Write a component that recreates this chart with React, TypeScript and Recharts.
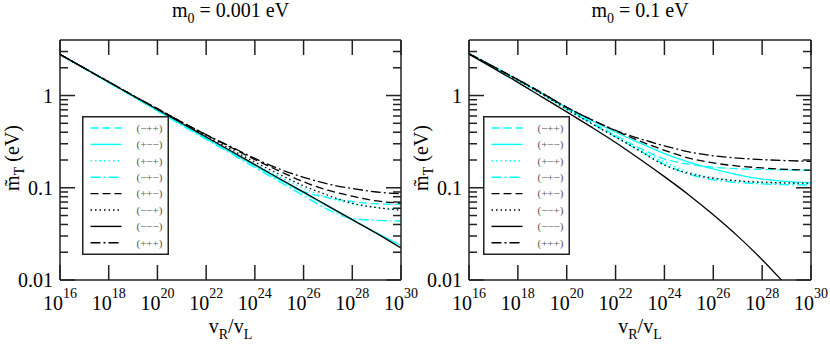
import React from 'react';
import { LineChart, Line, XAxis, YAxis, Legend, Label } from 'recharts';

// v_R / v_L sample points (one per decade)
const vRvL = [1e16, 1e17, 1e18, 1e19, 1e20, 1e21, 1e22, 1e23, 1e24, 1e25, 1e26, 1e27, 1e28, 1e29, 1e30];
const xTicks = [1e16, 1e18, 1e20, 1e22, 1e24, 1e26, 1e28, 1e30];
const yTicks = [0.01, 0.02, 0.03, 0.04, 0.05, 0.06, 0.07, 0.08, 0.09, 0.1, 0.2, 0.3, 0.4, 0.5, 0.6, 0.7, 0.8, 0.9, 1, 2, 3];
const yMajor = [0.01, 0.1, 1];
const signNames = ['(−++)', '(+−−)', '(+−+)', '(−+−)', '(++−)', '(−−+)', '(−−−)', '(+++)'];

// m0 = 0.001 eV
const low_mpp = [2.79, 1.97, 1.39, 0.98, 0.69, 0.487, 0.345, 0.245, 0.174, 0.124, 0.091, 0.078, 0.071, 0.067, 0.066];
const low_pmm = [2.79, 1.97, 1.39, 0.98, 0.69, 0.485, 0.344, 0.244, 0.173, 0.123, 0.0878, 0.0626, 0.0448, 0.0325, 0.0236];
const low_pmp = [2.79, 1.97, 1.39, 0.98, 0.69, 0.49, 0.35, 0.25, 0.18, 0.132, 0.099, 0.078, 0.067, 0.061, 0.059];
const low_mpm = [2.79, 1.97, 1.38, 0.97, 0.68, 0.475, 0.335, 0.236, 0.166, 0.117, 0.082, 0.058, 0.0465, 0.0443, 0.0436];
const low_ppm = [2.79, 1.98, 1.41, 1.0, 0.72, 0.515, 0.375, 0.275, 0.202, 0.152, 0.116, 0.094, 0.081, 0.072, 0.068];
const low_mmp = [2.79, 1.98, 1.41, 1.0, 0.715, 0.51, 0.365, 0.262, 0.19, 0.14, 0.105, 0.083, 0.068, 0.061, 0.057];
const low_mmm = [2.79, 1.98, 1.4, 0.995, 0.705, 0.5, 0.355, 0.252, 0.178, 0.126, 0.0897, 0.0636, 0.0451, 0.032, 0.0222];
const low_ppp = [2.79, 1.98, 1.41, 1.0, 0.72, 0.515, 0.377, 0.28, 0.208, 0.16, 0.13, 0.11, 0.098, 0.09, 0.086];

// m0 = 0.1 eV
const high_mpp = [2.84, 2.05, 1.47, 1.04, 0.725, 0.515, 0.37, 0.268, 0.205, 0.18, 0.167, 0.161, 0.158, 0.156, 0.155];
const high_pmm = [2.84, 2.06, 1.48, 1.05, 0.74, 0.54, 0.4, 0.305, 0.235, 0.19, 0.16, 0.138, 0.124, 0.117, 0.113];
const high_pmp = [2.84, 2.05, 1.46, 1.03, 0.715, 0.5, 0.36, 0.258, 0.19, 0.148, 0.128, 0.118, 0.113, 0.111, 0.11];
const high_mpm = [2.84, 2.05, 1.46, 1.03, 0.71, 0.5, 0.355, 0.25, 0.18, 0.14, 0.122, 0.114, 0.11, 0.108, 0.107];
const high_ppm = [2.84, 2.06, 1.49, 1.06, 0.745, 0.55, 0.415, 0.32, 0.255, 0.21, 0.186, 0.172, 0.164, 0.158, 0.155];
const high_mmp = [2.84, 2.05, 1.46, 1.03, 0.71, 0.5, 0.355, 0.25, 0.176, 0.143, 0.127, 0.119, 0.115, 0.113, 0.112];
const high_mmm = [2.8, 1.98, 1.39, 0.96, 0.665, 0.457, 0.31, 0.204, 0.132, 0.0836, 0.0509, 0.0299, 0.0166, 0.0087, 0.0045];
const high_ppp = [2.84, 2.06, 1.49, 1.06, 0.745, 0.55, 0.42, 0.34, 0.285, 0.245, 0.222, 0.21, 0.202, 0.197, 0.193];

const CYAN = '#00ffff';
const FRAME = '#222';
const serif = { fontFamily: '"Liberation Serif", "Times New Roman", serif' };

// styles per series, same order as signNames
const styles = [
  { color: CYAN, dash: '8 4' },
  { color: CYAN, dash: undefined },
  { color: CYAN, dash: '1.5 3' },
  { color: CYAN, dash: '10 3 2 3' },
  { color: '#000', dash: '8 4' },
  { color: '#000', dash: '1.5 3' },
  { color: '#000', dash: undefined },
  { color: '#000', dash: '10 3 2 3' },
];
const keys = ['mpp', 'pmm', 'pmp', 'mpm', 'ppm', 'mmp', 'mmm', 'ppp'];

const buildRows = (cols: number[][]) =>
  vRvL.map((x, i) => {
    const row: any = { x };
    keys.forEach((k, j) => (row[k] = cols[j][i]));
    return row;
  });

const lowRows = buildRows([low_mpp, low_pmm, low_pmp, low_mpm, low_ppm, low_mmp, low_mmm, low_ppp]);
const highRows = buildRows([high_mpp, high_pmm, high_pmp, high_mpm, high_ppm, high_mmp, high_mmm, high_ppp]);

const BottomTick = (props: any) => {
  const { x, y, payload } = props;
  const exp = Math.round(Math.log10(payload.value));
  return (
    <g>
      <line x1={x} x2={x} y1={y} y2={y - 15} stroke={FRAME} strokeWidth={1.5} />
      <text x={x} y={y + 30} textAnchor="middle" fontSize={20} style={serif} fill="#000">
        10<tspan dy={-12} fontSize={14}>{exp}</tspan>
      </text>
    </g>
  );
};

const TopTick = (props: any) => {
  const { x, y } = props;
  return <line x1={x} x2={x} y1={y} y2={y + 15} stroke={FRAME} strokeWidth={1.5} />;
};

const LeftTick = (props: any) => {
  const { x, y, payload } = props;
  const major = yMajor.includes(payload.value);
  return (
    <g>
      <line x1={x} x2={x + (major ? 15 : 8)} y1={y} y2={y} stroke={FRAME} strokeWidth={1.5} />
      {major && (
        <text x={x - 7} y={y + 7} textAnchor="end" fontSize={20} style={serif} fill="#000">
          {String(payload.value)}
        </text>
      )}
    </g>
  );
};

const RightTick = (props: any) => {
  const { x, y, payload } = props;
  const major = yMajor.includes(payload.value);
  return <line x1={x} x2={x - (major ? 15 : 8)} y1={y} y2={y} stroke={FRAME} strokeWidth={1.5} />;
};

const LegendBox = () => (
  <svg width={87} height={139} style={{ display: 'block' }}>
    <rect x={0.75} y={0.75} width={85.5} height={137.5} fill="#fff" stroke={FRAME} strokeWidth={1.5} />
    {signNames.map((name, i) => {
      const cy = 12 + i * 16.4;
      return (
        <g key={name}>
          <line x1={8.5} x2={39.5} y1={cy} y2={cy} stroke={styles[i].color} strokeWidth={1.4} strokeDasharray={styles[i].dash} />
          <text x={54.5} y={cy + 3.8} fontSize={11} style={serif} fill="#555">{name}</text>
        </g>
      );
    })}
  </svg>
);

// axes get a 1px band (an axis of size 0 is not drawn); margins are reduced by 1 to match
const Panel = ({ rows, title, width, margin, legendLeft }: any) => (
  <LineChart width={width} height={344} data={rows} margin={margin}>
    <XAxis
      dataKey="x"
      type="number"
      scale="log"
      domain={[1e16, 1e30]}
      allowDataOverflow
      ticks={xTicks}
      interval={0}
      height={1}
      tickSize={0}
      tickMargin={0}
      tickLine={false}
      axisLine={{ stroke: FRAME, strokeWidth: 1.5 }}
      tick={<BottomTick />}
    >
      <Label
        content={(p: any) => {
          const vb = p.viewBox;
          return (
            <text x={vb.x + vb.width / 2} y={vb.y + 53} textAnchor="middle" fontSize={20} style={serif} fill="#000">
              v<tspan dy={6} fontSize={14}>R</tspan>
              <tspan dy={-6}>/v</tspan>
              <tspan dy={6} fontSize={14}>L</tspan>
            </text>
          );
        }}
      />
    </XAxis>
    <XAxis
      xAxisId="top"
      orientation="top"
      dataKey="x"
      type="number"
      scale="log"
      domain={[1e16, 1e30]}
      allowDataOverflow
      ticks={xTicks}
      interval={0}
      height={1}
      tickSize={0}
      tickMargin={0}
      tickLine={false}
      axisLine={{ stroke: FRAME, strokeWidth: 1.5 }}
      tick={<TopTick />}
    >
      <Label
        content={(p: any) => {
          const vb = p.viewBox;
          return (
            <text x={vb.x + vb.width / 2} y={vb.y + vb.height - 23} textAnchor="middle" fontSize={20} style={serif} fill="#000">
              m<tspan dy={6} fontSize={14}>0</tspan>
              <tspan dy={-6}>{` = ${title} eV`}</tspan>
            </text>
          );
        }}
      />
    </XAxis>
    <YAxis
      type="number"
      scale="log"
      domain={[0.01, 4]}
      allowDataOverflow
      ticks={yTicks}
      interval={0}
      width={1}
      tickSize={0}
      tickMargin={0}
      tickLine={false}
      axisLine={{ stroke: FRAME, strokeWidth: 1.5 }}
      tick={<LeftTick />}
    >
      <Label
        content={(p: any) => {
          const vb = p.viewBox;
          const lx = vb.x + vb.width - 41;
          const ly = vb.y + vb.height / 2 - 2;
          return (
            <text x={lx} y={ly} transform={`rotate(-90, ${lx}, ${ly})`} textAnchor="middle" fontSize={20} style={serif} fill="#000">
              m̃<tspan dy={5} fontSize={14}>T</tspan>
              <tspan dy={-5}> (eV)</tspan>
            </text>
          );
        }}
      />
    </YAxis>
    <YAxis
      yAxisId="right"
      orientation="right"
      type="number"
      scale="log"
      domain={[0.01, 4]}
      allowDataOverflow
      ticks={yTicks}
      interval={0}
      width={1}
      tickSize={0}
      tickMargin={0}
      tickLine={false}
      axisLine={{ stroke: FRAME, strokeWidth: 1.5 }}
      tick={<RightTick />}
    />
    <Legend
      layout="horizontal"
      verticalAlign="middle"
      align="center"
      wrapperStyle={{ position: 'absolute', left: legendLeft, top: 116, width: 87, height: 139 }}
      content={() => <LegendBox />}
    />
    {keys.map((k, i) => (
      <Line
        key={k}
        dataKey={k}
        name={signNames[i]}
        type="monotone"
        stroke={styles[i].color}
        strokeWidth={1.3}
        strokeDasharray={styles[i].dash}
        dot={false}
        activeDot={false}
        isAnimationActive={false}
      />
    ))}
  </LineChart>
);

export default function App() {
  return (
    <div style={{ position: 'absolute', left: 0, top: 0, width: 830, height: 344, background: '#fff', overflow: 'hidden' }}>
      <div style={{ position: 'absolute', left: 400, top: 0 }}>
        <Panel rows={highRows} title="0.1" width={430} margin={{ top: 39, right: 18, bottom: 63, left: 68 }} legendLeft={83} />
      </div>
      <div style={{ position: 'absolute', left: 0, top: 0 }}>
        <Panel rows={lowRows} title="0.001" width={430} margin={{ top: 39, right: 28, bottom: 63, left: 59 }} legendLeft={82} />
      </div>
    </div>
  );
}
